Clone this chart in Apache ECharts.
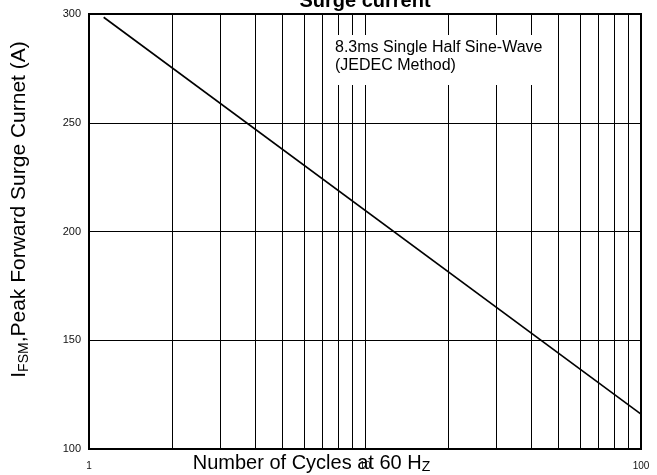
<!DOCTYPE html>
<html>
<head>
<meta charset="utf-8">
<script src="https://cdn.jsdelivr.net/npm/echarts@6/dist/echarts.min.js"></script>
<style>html,body{margin:0;padding:0;background:#fff}#c{width:657px;height:475px}</style>
</head>
<body>
<div id="c"></div>
<script>
// Data
var cycles = [1.13, 100];
var surgeCurrent = [298.5, 116];
var minorGridX = [2, 3, 4, 5, 6, 7, 8, 9, 20, 30, 40, 50, 60, 70, 80, 90];
var yTicks = [100, 150, 200, 250, 300];
var titleText = 'Surge current';
var noteText = '8.3ms Single Half Sine-Wave\n(JEDEC Method)';

var FONT = "'Liberation Sans', Arial, Helvetica, sans-serif";
var chart = echarts.init(document.getElementById('c'), null, {renderer: 'canvas'});

var lineData = cycles.map(function (c, i) { return [c, surgeCurrent[i]]; });

chart.setOption({
  animation: false,
  backgroundColor: '#fff',
  title: [{
    text: titleText,
    left: 365, top: -9, padding: 0, textAlign: 'center',
    textStyle: {fontFamily: FONT, fontSize: 20, fontWeight: 'bold', color: '#000'}
  }, {
    text: noteText,
    left: 327, top: 35, padding: [4, 8, 10, 8],
    backgroundColor: '#fff',
    textStyle: {fontFamily: FONT, fontSize: 16, fontWeight: 'normal', color: '#000', lineHeight: 18}
  }],
  grid: {
    left: 89, right: 16, top: 14, bottom: 26,
    show: true, borderColor: '#000', borderWidth: 2, backgroundColor: 'transparent',
    outerBoundsMode: 'none', containLabel: false
  },
  xAxis: {
    type: 'log', logBase: 10, min: 1, max: 100,
    axisLine: {show: false}, axisTick: {show: false},
    splitLine: {show: true, lineStyle: {color: '#000', width: 1}},
    minorSplitLine: {show: false},
    axisLabel: {fontFamily: FONT, fontSize: 10, color: '#111', margin: 12},
    name: '{a|Number of Cycles at 60 H}{b|Z}',
    nameLocation: 'middle', nameGap: 3, nameMoveOverlap: false,
    nameTextStyle: {
      padding: [0, 107, 0, 0],
      rich: {
        a: {fontFamily: FONT, fontSize: 20, color: '#000', lineHeight: 22},
        b: {fontFamily: FONT, fontSize: 14, color: '#000', lineHeight: 14, verticalAlign: 'bottom'}
      }
    }
  },
  yAxis: {
    type: 'value', min: yTicks[0], max: yTicks[yTicks.length - 1], interval: yTicks[1] - yTicks[0],
    axisLine: {show: false}, axisTick: {show: false},
    splitLine: {show: true, lineStyle: {color: '#000', width: 1}},
    axisLabel: {fontFamily: FONT, fontSize: 11, color: '#111', margin: 8},
    name: '{a|I}{b|FSM}{a|,Peak Forward Surge Curnet (A)}',
    nameLocation: 'middle', nameGap: 58, nameRotate: 90, nameMoveOverlap: false,
    nameTextStyle: {
      padding: [0, 0, 0, 44],
      rich: {
        a: {fontFamily: FONT, fontSize: 21, color: '#000', lineHeight: 24},
        b: {fontFamily: FONT, fontSize: 14, color: '#000', lineHeight: 14, verticalAlign: 'bottom'}
      }
    }
  },
  series: [{
    type: 'line',
    data: lineData,
    showSymbol: false,
    symbol: 'none',
    lineStyle: {color: '#000', width: 1.6},
    silent: true,
    z: 3,
    markLine: {
      silent: true,
      symbol: ['none', 'none'],
      label: {show: false},
      lineStyle: {type: 'solid', color: '#000', width: 1},
      emphasis: {disabled: true},
      z: 1,
      data: minorGridX.map(function (v) { return {xAxis: v}; })
    }
  }]
});
</script>
</body>
</html>
